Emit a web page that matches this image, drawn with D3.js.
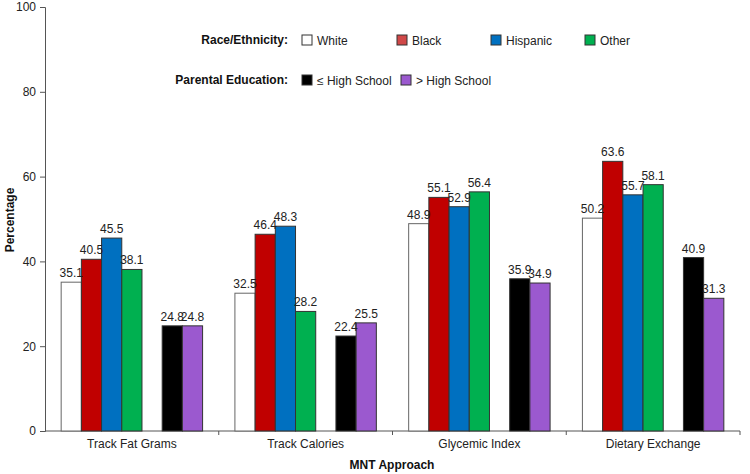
<!DOCTYPE html>
<html><head><meta charset="utf-8">
<script src="https://cdn.jsdelivr.net/npm/d3@7/dist/d3.min.js"></script>
<style>body{margin:0;background:#fff}svg{display:block;font-family:"Liberation Sans",Arial,sans-serif}</style>
</head><body><svg id="c" width="750" height="474"></svg>
<script>
const categories = ["Track Fat Grams","Track Calories","Glycemic Index","Dietary Exchange"];
const white = [35.1,32.5,48.9,50.2];
const black = [40.5,46.4,55.1,63.6];
const hispanic = [45.5,48.3,52.9,55.7];
const other = [38.1,28.2,56.4,58.1];
const leHighSchool = [24.8,22.4,35.9,40.9];
const gtHighSchool = [24.8,25.5,34.9,31.3];
const yTicks = [0,20,40,60,80,100];

const series = [
  {key:"White", vals:white, fill:"#ffffff", stroke:"#666"},
  {key:"Black", vals:black, fill:"#C00000", stroke:"#333"},
  {key:"Hispanic", vals:hispanic, fill:"#0070C0", stroke:"#333"},
  {key:"Other", vals:other, fill:"#00B050", stroke:"#333"},
  {key:"le", vals:leHighSchool, fill:"#000000", stroke:"#333"},
  {key:"gt", vals:gtHighSchool, fill:"#9B59CF", stroke:"#333"}
];
const slots = ["White","Black","Hispanic","Other","gap","le","gt"];

const svg = d3.select("#c");
const L=45, R=740, T=7, B=431;
const x0 = d3.scaleBand().domain(categories).range([L,R]);
const x1 = d3.scaleBand().domain(slots).range([0,x0.bandwidth()]).paddingInner(0).paddingOuter(0.8);
const y = d3.scaleLinear().domain([0,100]).range([B,T]);

// y axis
const ya = svg.append("g").attr("transform",`translate(${L},0)`)
  .call(d3.axisLeft(y).tickValues(yTicks).tickSize(5).tickPadding(4));
ya.select(".domain").attr("stroke","#555");
ya.selectAll(".tick line").attr("stroke","#555");
ya.selectAll("text").attr("font-size",12).attr("fill","#222").attr("font-family","Liberation Sans, Arial");

// x axis
const xa = svg.append("g").attr("transform",`translate(0,${B})`);
xa.append("line").attr("x1",L).attr("x2",R).attr("stroke","#555");
const bounds = categories.map(c=>x0(c)+x0.bandwidth());
xa.selectAll(".tk").data(bounds).join("line").attr("x1",d=>d).attr("x2",d=>d).attr("y1",0).attr("y2",4).attr("stroke","#555");
xa.selectAll(".cl").data(categories).join("text")
  .attr("x",d=>x0(d)+x0.bandwidth()/2).attr("y",17).attr("text-anchor","middle")
  .attr("font-size",12).attr("fill","#222").text(d=>d);

// bars
categories.forEach((c,i)=>{
  const g = svg.append("g").attr("transform",`translate(${x0(c)},0)`);
  series.forEach(s=>{
    const v = s.vals[i];
    g.append("rect").attr("x",x1(s.key)).attr("y",y(v)).attr("width",x1.bandwidth()).attr("height",B-y(v))
      .attr("fill",s.fill).attr("stroke",s.stroke).attr("stroke-width",1);
  });
  series.forEach(s=>{
    const v = s.vals[i];
    g.append("text").attr("x",x1(s.key)+x1.bandwidth()/2).attr("y",y(v)-5).attr("text-anchor","middle")
      .attr("font-size",12).attr("fill","#222").text(v.toFixed(1));
  });
});

// axis titles
svg.append("text").attr("transform","translate(14,220) rotate(-90)").attr("text-anchor","middle")
  .attr("font-size",12).attr("font-weight","bold").attr("fill","#111").text("Percentage");
svg.append("text").attr("x",392).attr("y",469).attr("text-anchor","middle")
  .attr("font-size",12).attr("font-weight","bold").attr("fill","#111").text("MNT Approach");

// legend
const leg = svg.append("g");
leg.append("text").attr("x",288).attr("y",44).attr("text-anchor","end").attr("font-size",12).attr("font-weight","bold").attr("fill","#111").text("Race/Ethnicity:");
leg.append("text").attr("x",288).attr("y",84).attr("text-anchor","end").attr("font-size",12).attr("font-weight","bold").attr("fill","#111").text("Parental Education:");
const items = [
  {s:series[0], label:"White", x:302, y:35},
  {s:series[1], label:"Black", x:397, y:35},
  {s:series[2], label:"Hispanic", x:491, y:35},
  {s:series[3], label:"Other", x:585, y:35},
  {s:series[4], label:"\u2264 High School", x:302, y:75},
  {s:series[5], label:"> High School", x:401, y:75}
];
items.forEach(it=>{
  leg.append("rect").attr("x",it.x).attr("y",it.y).attr("width",10).attr("height",10)
    .attr("fill",it.s.key==="Black"?"#D04848":it.s.fill).attr("stroke","#333");
  leg.append("text").attr("x",it.x+15).attr("y",it.y+9.5).attr("font-size",12).attr("fill","#222").text(it.label);
});
</script></body></html>
